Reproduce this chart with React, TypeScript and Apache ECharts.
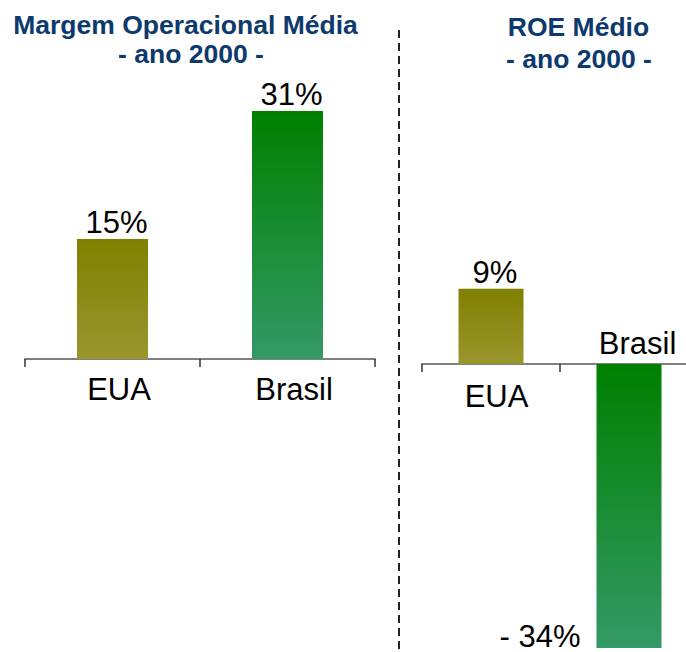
import React, { useEffect, useRef } from "react";
import * as echarts from "echarts";

const categories = ["EUA", "Brasil"];
const marginValues = [15, 31];
const roeValues = [9, -34];
const titleLeftLines = ["Margem Operacional Média", "- ano 2000 -"];
const titleRightLines = ["ROE Médio", "- ano 2000 -"];

const FONT = "'Liberation Sans', Arial, Helvetica, sans-serif";
const NAVY = "#0d3a6d";
const FS = 31;

const grad = (top: string, bottom: string) =>
  new echarts.graphic.LinearGradient(0, 0, 0, 1, [
    { offset: 0, color: top },
    { offset: 1, color: bottom },
  ]);
const barColors = [
  () => grad("#808000", "#9a962f"),
  () => grad("#008000", "#339966"),
];

const pct = (v: number) => (v < 0 ? `- ${Math.abs(v)}%` : `${v}%`);

export default function App() {
  const ref = useRef<HTMLDivElement>(null);
  useEffect(() => {
    if (!ref.current) return;
    const chart = echarts.init(ref.current, undefined, { renderer: "svg" });
    const labelBase = {
      show: true,
      color: "#000",
      fontFamily: FONT,
      fontSize: FS,
      formatter: (p: any) => pct(p.value),
    };
    const axisLine = { show: true, onZero: false, lineStyle: { color: "#808080", width: 2 } };
    const axisTick = { show: true, length: 8, lineStyle: { color: "#333", width: 1.5 } };
    const roeUp = roeValues.map((v) => (v >= 0 ? v : "-"));
    const roeDown = roeValues.map((v) => (v < 0 ? v : "-"));
    const titleStyle = { fontFamily: FONT, fontWeight: "bold", fontSize: 26.5, color: NAVY };
    chart.setOption({
      animation: false,
      backgroundColor: "#fff",
      title: [
        { text: titleLeftLines[0], left: 180.5, top: 6, textAlign: "center", textStyle: titleStyle },
        { text: titleLeftLines[1], left: 186, top: 35, textAlign: "center", textStyle: titleStyle },
        { text: titleRightLines[0], left: 573.5, top: 8, textAlign: "center", textStyle: titleStyle },
        { text: titleRightLines[1], left: 574, top: 40, textAlign: "center", textStyle: titleStyle },
      ],
      grid: [
        { left: 25, width: 350, top: 79, height: 280, outerBoundsMode: "none", containLabel: false },
        { left: 422, width: 276, top: 280.5, height: 83.5, outerBoundsMode: "none", containLabel: false },
        { left: 422, width: 276, top: 364, height: 284, outerBoundsMode: "none", containLabel: false },
      ],
      xAxis: [
        {
          gridIndex: 0,
          type: "category",
          data: categories,
          axisLine,
          axisTick,
          axisLabel: { fontFamily: FONT, fontSize: FS, color: "#000", margin: 15, padding: [0, 0, 0, 13] },
        },
        {
          gridIndex: 1,
          type: "category",
          data: categories,
          position: "bottom",
          axisLine,
          axisTick,
          axisLabel: {
            fontFamily: FONT,
            fontSize: FS,
            color: "#000",
            margin: 17,
            padding: [0, 0, 0, 11],
            formatter: (v: string, i: number) => (roeValues[i] >= 0 ? v : ""),
          },
        },
        {
          gridIndex: 2,
          type: "category",
          data: categories,
          position: "top",
          axisLine: { show: false, onZero: false },
          axisTick: { show: false },
          axisLabel: {
            fontFamily: FONT,
            fontSize: FS,
            color: "#000",
            margin: 5,
            padding: [0, 0, 0, 17],
            formatter: (v: string, i: number) => (roeValues[i] < 0 ? v : ""),
          },
        },
      ],
      yAxis: [
        { gridIndex: 0, type: "value", min: 0, max: 35, show: false },
        { gridIndex: 1, type: "value", min: 0, max: 10, show: false },
        { gridIndex: 2, type: "value", min: -34, max: 0, show: false },
      ],
      series: [
        {
          type: "bar",
          xAxisIndex: 0,
          yAxisIndex: 0,
          barWidth: 71,
          label: { ...labelBase, position: "top", distance: 1, offset: [4, 0] },
          data: marginValues.map((v, i) => ({ value: v, itemStyle: { color: barColors[i]() } })),
        },
        {
          type: "bar",
          xAxisIndex: 1,
          yAxisIndex: 1,
          barWidth: 65,
          label: { ...labelBase, position: "top", distance: 1, offset: [4, 0] },
          data: roeUp.map((v, i) => ({ value: v, itemStyle: { color: barColors[i]() } })),
        },
        {
          type: "bar",
          xAxisIndex: 2,
          yAxisIndex: 2,
          barWidth: 65,
          label: { ...labelBase, position: "left", distance: 16, offset: [0, 130] },
          data: roeDown.map((v, i) => ({ value: v, itemStyle: { color: barColors[i]() } })),
        },
      ],
      graphic: [
        {
          type: "line",
          shape: { x1: 399, y1: 30, x2: 399, y2: 652 },
          style: { stroke: "#222", lineWidth: 2, lineDash: [8, 5] },
        },
      ],
    });
    return () => chart.dispose();
  }, []);
  return (
    <div
      ref={ref}
      style={{ position: "fixed", left: 0, top: 0, width: 686, height: 652 }}
    />
  );
}
